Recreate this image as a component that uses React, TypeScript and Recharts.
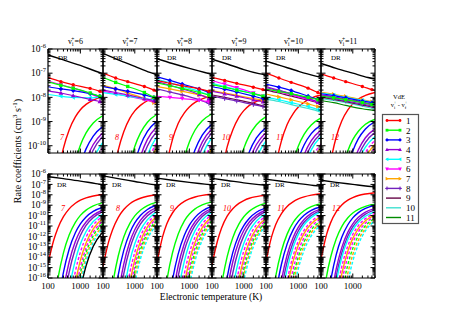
import React from 'react';
import { LineChart, Line, XAxis, YAxis } from 'recharts';

const FONT = '"Liberation Serif","Times New Roman",Times,serif';

// ---------- layout ----------
const PANEL_X = [48, 103, 157, 212, 266, 321];
const PANEL_W = [55, 54, 55, 54, 55, 54];
const ROW_Y = [49, 174];
const PANEL_H = 104;
const ML = 40, MR = 8, MT = 8, MB = 20;
const TICK_MAJ = 4.5, TICK_MIN = 2.5;

// ---------- categories / ticks ----------
const VI = [6, 7, 8, 9, 10, 11];
const VF_LABEL = ['7', '8', '9', '10', '11', '12'];
const MANTISSAS = [1, 2, 3, 4, 5, 6, 7, 8, 9];
const X_DECADES = [100, 1000];
const X_MAX = 5000;
const Y_TOP_EXP = [-11, -10, -9, -8, -7];
const Y_BOT_EXP = [-16, -15, -14, -13, -12, -11, -10, -9, -8, -7];
const Y_TOP_DOMAIN = [5e-11, 1e-6];
const Y_BOT_DOMAIN = [1e-16, 1e-6];
const LEGEND_LABELS = ['1', '2', '3', '4', '5', '6', '7', '8', '9', '10', '11'];

// ---------- temperatures (K) ----------
const T_GRID = [100, 150, 200, 300, 450, 700, 1000, 1500, 2500, 5000];
const VDE_T = [100, 250, 600, 2000, 4000, 5000];
const DR_T = [100, 300, 1000, 3000, 5000];

// ---------- values (log10 of rate coefficient, cm^3 s^-1) ----------
const DR_V6 = [-6.25, -6.45, -6.68, -6.92, -7.02];
const DR_V7 = [-6.18, -6.45, -6.72, -6.97, -7.07];
const DR_V8 = [-6.4, -6.6, -6.8, -6.97, -7.05];
const DR_V9 = [-6.42, -6.62, -6.85, -7.02, -7.08];
const DR_V10 = [-6.5, -6.7, -6.92, -7.1, -7.17];
const DR_V11 = [-6.6, -6.8, -7.0, -7.18, -7.24];

const VDE_V6 = [
  [-7.17, -7.35, -7.48, -7.63, -7.75, -7.8],
  [-7.36, -7.5, -7.62, -7.82, -7.96, -8.0],
  [-7.56, -7.65, -7.72, -7.85, -7.95, -7.98],
  [-7.73, -7.82, -7.93, -8.08, -8.17, -8.2],
  [-7.88, -7.95, -8.0, -8.02, -8.0, -8.0],
  [-7.33, -7.48, -7.62, -7.85, -8.02, -8.08],
];
const VDE_V7 = [
  [-7.0, -7.2, -7.35, -7.55, -7.7, -7.78],
  [-7.17, -7.38, -7.55, -7.8, -8.0, -8.07],
  [-7.55, -7.65, -7.75, -7.9, -8.0, -8.03],
  [-7.7, -7.8, -7.9, -8.05, -8.13, -8.16],
  [-7.8, -7.88, -7.95, -8.05, -8.1, -8.12],
  [-7.75, -7.85, -7.95, -8.1, -8.18, -8.2],
  [-7.5, -7.65, -7.82, -8.05, -8.22, -8.28],
];
const VDE_V8 = [
  [-7.3, -7.42, -7.52, -7.65, -7.75, -7.8],
  [-7.4, -7.52, -7.63, -7.8, -7.9, -7.95],
  [-7.15, -7.3, -7.45, -7.65, -7.8, -7.86],
  [-7.35, -7.5, -7.65, -7.88, -8.05, -8.12],
  [-7.25, -7.4, -7.55, -7.75, -7.9, -7.95],
  [-7.95, -8.0, -8.05, -8.12, -8.18, -8.2],
  [-7.55, -7.65, -7.75, -7.9, -8.0, -8.05],
  [-7.65, -7.78, -7.9, -8.1, -8.25, -8.3],
];
const VDE_V9 = [
  [-7.17, -7.3, -7.42, -7.58, -7.68, -7.72],
  [-7.47, -7.58, -7.7, -7.85, -7.95, -7.98],
  [-7.56, -7.66, -7.78, -7.95, -8.05, -8.07],
  [-7.75, -7.85, -7.95, -8.1, -8.18, -8.2],
  [-7.42, -7.55, -7.68, -7.85, -7.95, -7.98],
  [-7.31, -7.45, -7.6, -7.82, -7.95, -7.99],
  [-7.72, -7.82, -7.92, -8.05, -8.12, -8.15],
  [-7.95, -8.05, -8.15, -8.3, -8.38, -8.4],
  [-7.9, -8.0, -8.1, -8.25, -8.35, -8.38],
];
const VDE_V10 = [
  [-7.0, -7.2, -7.38, -7.62, -7.8, -7.86],
  [-7.65, -7.75, -7.85, -8.0, -8.1, -8.15],
  [-7.45, -7.58, -7.72, -7.95, -8.08, -8.13],
  [-7.56, -7.7, -7.85, -8.05, -8.2, -8.27],
  [-8.0, -8.1, -8.22, -8.38, -8.5, -8.55],
  [-7.65, -7.77, -7.9, -8.08, -8.2, -8.25],
  [-7.86, -7.98, -8.1, -8.27, -8.38, -8.41],
  [-7.6, -7.72, -7.85, -8.05, -8.18, -8.22],
  [-7.7, -7.82, -7.95, -8.12, -8.22, -8.26],
  [-8.07, -8.17, -8.3, -8.46, -8.57, -8.62],
];
const VDE_V11 = [
  [-7.03, -7.2, -7.35, -7.55, -7.68, -7.72],
  [-7.95, -8.02, -8.1, -8.22, -8.3, -8.32],
  [-7.85, -7.93, -8.02, -8.15, -8.22, -8.25],
  [-7.9, -7.98, -8.07, -8.2, -8.28, -8.3],
  [-7.82, -7.9, -8.0, -8.12, -8.2, -8.22],
  [-7.92, -8.0, -8.1, -8.23, -8.32, -8.35],
  [-7.79, -7.87, -7.96, -8.1, -8.18, -8.2],
  [-7.97, -8.05, -8.15, -8.28, -8.36, -8.4],
  [-8.0, -8.08, -8.18, -8.32, -8.4, -8.44],
  [-8.05, -8.13, -8.22, -8.36, -8.45, -8.48],
  [-8.13, -8.22, -8.33, -8.47, -8.53, -8.55],
];

const RISE_V6 = [
  [-14.63, -12.37, -11.23, -10.1, -9.35, -8.81, -8.51, -8.29, -8.11, -7.97],
  [-23.86, -18.72, -16.15, -13.58, -11.87, -10.65, -9.98, -9.47, -9.06, -8.75],
  [-28.74, -22.1, -18.77, -15.45, -13.23, -11.65, -10.8, -10.13, -9.6, -9.2],
  [-33.75, -25.49, -21.35, -17.22, -14.46, -12.5, -11.43, -10.61, -9.95, -9.45],
  [-38, -28.33, -23.5, -18.67, -15.46, -13.16, -11.92, -10.95, -10.18, -9.6],
  [-40, -33.18, -27.16, -21.15, -17.14, -14.28, -12.74, -11.53, -10.57, -9.85],
  [-40, -38.1, -30.87, -23.64, -18.82, -15.38, -13.52, -12.08, -10.92, -10.05],
  [-40, -40, -34.56, -26.13, -20.5, -16.49, -14.31, -12.63, -11.27, -10.26],
  [-40, -40, -37.36, -28.03, -21.81, -17.38, -14.98, -13.11, -11.62, -10.5],
  [-40, -40, -39.6, -29.57, -22.89, -18.13, -15.55, -13.55, -11.94, -10.74],
  [-40, -40, -40, -31.08, -23.96, -18.88, -16.13, -13.99, -12.28, -11.0],
  [-40, -40, -40, -32.34, -24.85, -19.51, -16.61, -14.37, -12.57, -11.22],
  [-40, -40, -40, -33.62, -25.79, -20.2, -17.18, -14.83, -12.95, -11.54],
];
const RISE_V7 = [
  [-14.86, -12.53, -11.36, -10.19, -9.42, -8.86, -8.56, -8.33, -8.14, -8.0],
  [-25.01, -19.46, -16.69, -13.91, -12.06, -10.75, -10.03, -9.48, -9.03, -8.7],
  [-30.16, -22.95, -19.35, -15.75, -13.35, -11.64, -10.71, -9.99, -9.41, -8.98],
  [-35.68, -26.67, -22.17, -17.67, -14.66, -12.52, -11.36, -10.46, -9.74, -9.2],
  [-39.4, -29.22, -24.11, -19.0, -15.6, -13.17, -11.85, -10.83, -10.01, -9.4],
  [-40, -34.49, -28.08, -21.67, -17.4, -14.35, -12.7, -11.42, -10.39, -9.62],
  [-40, -39.6, -31.91, -24.25, -19.14, -15.5, -13.53, -12.0, -10.77, -9.85],
  [-40, -40, -35.29, -26.52, -20.68, -16.5, -14.25, -12.5, -11.09, -10.04],
  [-40, -40, -37.7, -28.17, -21.82, -17.28, -14.83, -12.92, -11.39, -10.25],
  [-40, -40, -40, -29.79, -22.93, -18.04, -15.39, -13.33, -11.69, -10.45],
  [-40, -40, -40, -31.6, -24.17, -18.87, -16.0, -13.77, -11.99, -10.65],
  [-40, -40, -40, -33.36, -25.37, -19.68, -16.6, -14.2, -12.29, -10.85],
];
const RISE_V8 = [
  [-14.5, -12.0, -10.8, -9.75, -9.08, -8.64, -8.4, -8.21, -8.06, -7.95],
  [-24.5, -19.0, -16.3, -13.6, -11.8, -10.5, -9.85, -9.35, -8.97, -8.68],
  [-31.44, -23.84, -20.04, -16.24, -13.71, -11.9, -10.92, -10.17, -9.56, -9.1],
  [-36.3, -27.12, -22.52, -17.93, -14.87, -12.69, -11.5, -10.59, -9.85, -9.3],
  [-40, -29.89, -24.62, -19.35, -15.84, -13.33, -11.98, -10.93, -10.08, -9.45],
  [-40, -34.51, -28.1, -21.69, -17.42, -14.37, -12.73, -11.45, -10.42, -9.65],
  [-40, -39.9, -32.17, -24.43, -19.28, -15.6, -13.61, -12.07, -10.83, -9.9],
  [-40, -40, -35.48, -26.66, -20.79, -16.6, -14.33, -12.57, -11.16, -10.1],
  [-40, -40, -38.3, -28.6, -22.11, -17.48, -14.97, -13.03, -11.47, -10.3],
  [-40, -40, -40, -30.45, -23.37, -18.32, -15.59, -13.47, -11.77, -10.5],
  [-40, -40, -40, -32.24, -24.6, -19.15, -16.2, -13.91, -12.08, -10.7],
  [-40, -40, -40, -33.96, -25.78, -19.94, -16.79, -14.34, -12.37, -10.9],
];
const RISE_V9 = [
  [-14.7, -12.4, -11.2, -10.05, -9.35, -8.83, -8.55, -8.33, -8.17, -8.05],
  [-24.88, -19.41, -16.68, -13.94, -12.12, -10.82, -10.11, -9.57, -9.13, -8.8],
  [-30.13, -23.03, -19.48, -15.93, -13.56, -11.87, -10.96, -10.25, -9.68, -9.25],
  [-33.75, -25.49, -21.35, -17.22, -14.46, -12.5, -11.43, -10.61, -9.95, -9.45],
  [-38.35, -28.57, -23.68, -18.79, -15.53, -13.21, -11.95, -10.97, -10.19, -9.6],
  [-40, -33.07, -27.07, -21.07, -17.08, -14.22, -12.68, -11.48, -10.52, -9.8],
  [-40, -37.28, -30.26, -23.24, -18.56, -15.23, -13.42, -12.02, -10.89, -10.05],
  [-40, -40, -33.46, -25.4, -20.03, -16.19, -14.12, -12.51, -11.22, -10.25],
  [-40, -40, -35.82, -27.01, -21.14, -16.95, -14.68, -12.92, -11.51, -10.45],
  [-40, -40, -38.09, -28.56, -22.21, -17.67, -15.22, -13.32, -11.79, -10.65],
  [-40, -40, -40, -30.01, -23.22, -18.37, -15.74, -13.71, -12.07, -10.85],
  [-40, -40, -40, -31.83, -24.44, -19.17, -16.32, -14.11, -12.33, -11.0],
];
const RISE_V10 = [
  [-14.4, -12.0, -10.85, -9.8, -9.12, -8.66, -8.4, -8.2, -8.03, -7.9],
  [-23.07, -18.23, -15.81, -13.4, -11.78, -10.63, -10.01, -9.53, -9.14, -8.85],
  [-26.45, -20.56, -17.62, -14.68, -12.72, -11.32, -10.56, -9.97, -9.5, -9.15],
  [-30.89, -23.56, -19.9, -16.24, -13.79, -12.05, -11.11, -10.38, -9.79, -9.35],
  [-33.47, -25.32, -21.24, -17.16, -14.45, -12.51, -11.46, -10.64, -9.99, -9.5],
  [-36.43, -27.31, -22.75, -18.19, -15.15, -12.98, -11.81, -10.9, -10.17, -9.62],
  [-40, -30.27, -25.03, -19.79, -16.3, -13.8, -12.45, -11.41, -10.57, -9.94],
  [-40, -32.24, -26.54, -20.83, -17.02, -14.31, -12.84, -11.7, -10.79, -10.1],
  [-40, -35.43, -28.95, -22.48, -18.16, -15.08, -13.41, -12.12, -11.08, -10.3],
  [-40, -38.48, -31.27, -24.06, -19.25, -15.82, -13.96, -12.52, -11.37, -10.5],
  [-40, -40, -33.5, -25.58, -20.3, -16.54, -14.5, -12.92, -11.65, -10.7],
  [-40, -40, -35.98, -27.27, -21.46, -17.32, -15.08, -13.34, -11.95, -10.9],
];
const RISE_V11 = [
  [-14.2, -11.8, -10.7, -9.65, -8.98, -8.52, -8.27, -8.07, -7.92, -7.8],
  [-19.37, -15.81, -14.03, -12.25, -11.06, -10.21, -9.75, -9.4, -9.11, -8.9],
  [-23.96, -18.87, -16.33, -13.78, -12.09, -10.88, -10.22, -9.71, -9.31, -9.0],
  [-27.6, -21.37, -18.26, -15.15, -13.08, -11.59, -10.79, -10.17, -9.67, -9.3],
  [-29.57, -22.73, -19.3, -15.88, -13.6, -11.97, -11.09, -10.41, -9.86, -9.45],
  [-30.99, -23.72, -20.09, -16.45, -14.03, -12.3, -11.37, -10.64, -10.06, -9.62],
  [-34.7, -26.23, -21.99, -17.75, -14.92, -12.91, -11.81, -10.97, -10.29, -9.78],
  [-37.53, -28.14, -23.45, -18.76, -15.63, -13.4, -12.19, -11.26, -10.5, -9.94],
  [-40, -30.36, -25.14, -19.92, -16.43, -13.95, -12.61, -11.56, -10.73, -10.1],
  [-40, -33.69, -27.65, -21.61, -17.58, -14.71, -13.15, -11.94, -10.98, -10.25],
  [-40, -37.46, -30.49, -23.51, -18.86, -15.54, -13.75, -12.35, -11.24, -10.4],
  [-40, -40, -33.8, -25.71, -20.31, -16.47, -14.38, -12.77, -11.47, -10.5],
];

// ---------- styles ----------
const VDE_COLORS = ['#ff0000', '#00ff00', '#0000ff', '#9400d3', '#00ffff', '#ff00ff', '#ffa500', '#7221bc', '#670748', '#40e0d0', '#008b00'];
const VDE_SHAPES = ['circle', 'square', 'diamond', 'triUp', 'triLeft', 'triDown', 'triRight', 'plus', 'none', 'none', 'none'];
const RISE_COLORS = ['#ff0000', '#00ff00', '#0000ff', '#9400d3', '#7221bc', '#00ffff', '#ff00ff', '#ffa500', '#ff00ff', '#00ff00', '#ffa500', '#00ffff', '#000000'];
const RISE_DASHED = [false, false, false, false, false, false, true, false, true, true, true, true, false];

const COLS = [
  { dr: DR_V6, vde: VDE_V6, rise: RISE_V6 },
  { dr: DR_V7, vde: VDE_V7, rise: RISE_V7 },
  { dr: DR_V8, vde: VDE_V8, rise: RISE_V8 },
  { dr: DR_V9, vde: VDE_V9, rise: RISE_V9 },
  { dr: DR_V10, vde: VDE_V10, rise: RISE_V10 },
  { dr: DR_V11, vde: VDE_V11, rise: RISE_V11 },
];

const X_TICKS = X_DECADES.flatMap((d) => MANTISSAS.map((m) => m * d)).filter((v) => v <= X_MAX);
const mkYTicks = (exps: number[], lo: number, hi: number) =>
  exps.flatMap((e) => MANTISSAS.map((m) => m * Math.pow(10, e))).filter((v) => v >= lo * 0.999 && v < hi * 0.999).concat([hi]);
const Y_TICKS_TOP = mkYTicks(Y_TOP_EXP, Y_TOP_DOMAIN[0], Y_TOP_DOMAIN[1]);
const Y_TICKS_BOT = mkYTicks(Y_BOT_EXP, Y_BOT_DOMAIN[0], Y_BOT_DOMAIN[1]);

const toData = (ts: number[], logs: number[]) => ts.map((T, i) => ({ T, k: Math.pow(10, logs[i]) }));
const isMajor = (v: number) => Math.abs(Math.log10(v) - Math.round(Math.log10(v))) < 1e-6;

function Marker({ shape, x, y, color, s = 1.7 }: any) {
  const a = s * 1.35;
  switch (shape) {
    case 'circle':
      return <circle cx={x} cy={y} r={s} fill={color} />;
    case 'square':
      return <rect x={x - s} y={y - s} width={2 * s} height={2 * s} fill={color} />;
    case 'diamond':
      return <polygon points={`${x},${y - a} ${x + a},${y} ${x},${y + a} ${x - a},${y}`} fill={color} />;
    case 'triUp':
      return <polygon points={`${x},${y - a} ${x + a},${y + s} ${x - a},${y + s}`} fill={color} />;
    case 'triDown':
      return <polygon points={`${x},${y + a} ${x + a},${y - s} ${x - a},${y - s}`} fill={color} />;
    case 'triLeft':
      return <polygon points={`${x - a},${y} ${x + s},${y - a} ${x + s},${y + a}`} fill={color} />;
    case 'triRight':
      return <polygon points={`${x + a},${y} ${x - s},${y - a} ${x - s},${y + a}`} fill={color} />;
    case 'plus':
      return <path d={`M${x - a},${y}H${x + a}M${x},${y - a}V${y + a}`} stroke={color} strokeWidth={1} />;
    default:
      return <g />;
  }
}

const mkLeftTick = (labels: boolean) => (p: any) => {
  const { x, y, payload } = p;
  const v = payload.value;
  const maj = isMajor(v);
  return (
    <g>
      <line x1={x} x2={x + (maj ? TICK_MAJ : TICK_MIN)} y1={y} y2={y} stroke="#000" strokeWidth={1} />
      {labels && maj ? (
        <text x={x - 2} y={y + 3.2} textAnchor="end" fontSize={9.5} fontFamily={FONT} fill="#000">
          10<tspan dy={-4} fontSize={6.5}>{String(Math.round(Math.log10(v)))}</tspan>
        </text>
      ) : null}
    </g>
  );
};
const RightTick = (p: any) => {
  const { x, y, payload } = p;
  const maj = isMajor(payload.value);
  return <line x1={x} x2={x - (maj ? TICK_MAJ : TICK_MIN)} y1={y} y2={y} stroke="#000" strokeWidth={1} />;
};
const TopTick = (p: any) => {
  const { x, y, payload } = p;
  const maj = isMajor(payload.value);
  return <line x1={x} x2={x} y1={y} y2={y + (maj ? TICK_MAJ : TICK_MIN)} stroke="#000" strokeWidth={1} />;
};
const mkBottomTick = (labels: boolean) => (p: any) => {
  const { x, y, payload } = p;
  const v = payload.value;
  const maj = isMajor(v);
  const li = X_DECADES.indexOf(v);
  return (
    <g>
      <line x1={x} x2={x} y1={y} y2={y - (maj ? TICK_MAJ : TICK_MIN)} stroke="#000" strokeWidth={1} />
      {labels && li >= 0 ? (
        <text x={x} y={y + 11} textAnchor="middle" fontSize={9} fontFamily={FONT} fill="#000">
          {X_DECADES[li] === 100 ? '100' : '1000'}
        </text>
      ) : null}
    </g>
  );
};

function Panel({ col, row }: { col: number; row: number }) {
  const cd = COLS[col];
  const px = PANEL_X[col];
  const pw = PANEL_W[col];
  const py = ROW_Y[row];
  const yDomain = row === 0 ? Y_TOP_DOMAIN : Y_BOT_DOMAIN;
  const yTicks = row === 0 ? Y_TICKS_TOP : Y_TICKS_BOT;
  const lines: any[] = [];
  cd.rise.forEach((arr, i) => {
    lines.push(
      <Line
        key={'r' + i}
        xAxisId="b"
        yAxisId="l"
        data={toData(T_GRID, arr)}
        dataKey="k"
        type="monotone"
        stroke={RISE_COLORS[i]}
        strokeWidth={1.4}
        strokeDasharray={RISE_DASHED[i] ? '3 2' : undefined}
        dot={false}
        activeDot={false}
        isAnimationActive={false}
      />
    );
  });
  if (row === 0) {
    const order = cd.vde.map((_, i) => i).reverse();
    order.forEach((i) => {
      const arr = cd.vde[i];
      const color = VDE_COLORS[i];
      const shape = VDE_SHAPES[i];
      const last = arr.length - 1;
      lines.push(
        <Line
          key={'v' + i}
          xAxisId="b"
          yAxisId="l"
          data={toData(VDE_T, arr)}
          dataKey="k"
          type="monotone"
          stroke={color}
          strokeWidth={1.2}
          dot={(p: any) =>
            p.index === 0 || p.index === last || p.cx == null ? (
              <g key={'d' + p.index} />
            ) : (
              <Marker key={'d' + p.index} shape={shape} x={p.cx} y={p.cy} color={color} />
            )
          }
          activeDot={false}
          isAnimationActive={false}
        />
      );
    });
  }
  lines.push(
    <Line
      key="dr"
      xAxisId="b"
      yAxisId="l"
      data={toData(DR_T, cd.dr)}
      dataKey="k"
      type="monotone"
      stroke="#000"
      strokeWidth={1.4}
      dot={false}
      activeDot={false}
      isAnimationActive={false}
    />
  );
  return (
    <div style={{ position: 'absolute', left: px - ML, top: py - MT }}>
      <LineChart width={pw + ML + MR} height={PANEL_H + MT + MB} margin={{ top: 0, right: 0, bottom: 0, left: 0 }}>
        <XAxis
          xAxisId="b"
          orientation="bottom"
          dataKey="T"
          type="number"
          scale="log"
          domain={[100, X_MAX]}
          allowDataOverflow
          ticks={X_TICKS}
          interval={0}
          tickSize={0}
          tickMargin={0}
          tickLine={false}
          axisLine={{ stroke: '#000', strokeWidth: 1.2 }}
          height={MB}
          tick={mkBottomTick(row === 1)}
        />
        <XAxis
          xAxisId="t"
          orientation="top"
          dataKey="T"
          type="number"
          scale="log"
          domain={[100, X_MAX]}
          allowDataOverflow
          ticks={X_TICKS}
          interval={0}
          tickSize={0}
          tickMargin={0}
          tickLine={false}
          axisLine={{ stroke: '#000', strokeWidth: 1.2 }}
          height={MT}
          tick={TopTick}
        />
        <YAxis
          yAxisId="l"
          orientation="left"
          type="number"
          scale="log"
          domain={yDomain}
          allowDataOverflow
          ticks={yTicks}
          interval={0}
          tickSize={0}
          tickMargin={0}
          tickLine={false}
          axisLine={{ stroke: '#000', strokeWidth: 1.2 }}
          width={ML}
          tick={mkLeftTick(col === 0)}
        />
        <YAxis
          yAxisId="r"
          orientation="right"
          type="number"
          scale="log"
          domain={yDomain}
          allowDataOverflow
          ticks={yTicks}
          interval={0}
          tickSize={0}
          tickMargin={0}
          tickLine={false}
          axisLine={{ stroke: '#000', strokeWidth: 1.2 }}
          width={MR}
          tick={RightTick}
        />
        {lines}
      </LineChart>
    </div>
  );
}

function Overlay() {
  return (
    <svg width={451} height={319} style={{ position: 'absolute', left: 0, top: 0, pointerEvents: 'none' }} fontFamily={FONT}>
      {VI.map((v, c) => (
        <text key={'t' + c} x={PANEL_X[c] + PANEL_W[c] / 2} y={44} textAnchor="middle" fontSize={8} fill="#000">
          v<tspan fontSize={5.5} dy={2}>i</tspan>
          <tspan fontSize={5.5} dx={-2.2} dy={-5.5}>+</tspan>
          <tspan dy={3.5}>{'=' + v}</tspan>
        </text>
      ))}
      {VI.map((v, c) => (
        <g key={'lab' + c}>
          <text x={PANEL_X[c] + 10} y={59.5} fontSize={7} fill="#000">DR</text>
          <text x={PANEL_X[c] + 9} y={187} fontSize={7} fill="#000">DR</text>
          <text x={PANEL_X[c] + 14} y={140} fontSize={8} fontStyle="italic" textAnchor="middle" fill="#ff0000">{VF_LABEL[c]}</text>
          <text x={PANEL_X[c] + 15} y={211} fontSize={8} fontStyle="italic" textAnchor="middle" fill="#ff0000">{VF_LABEL[c]}</text>
        </g>
      ))}
      <text transform="translate(21,151) rotate(-90)" textAnchor="middle" fontSize={10} fill="#000">
        Rate coefficients (cm<tspan dy={-4} fontSize={7}>3</tspan>
        <tspan dy={4}> s</tspan>
        <tspan dy={-4} fontSize={7}>-1</tspan>
        <tspan dy={4}>)</tspan>
      </text>
      <text x={211} y={300} textAnchor="middle" fontSize={9.5} fill="#000">Electronic temperature (K)</text>
      <text x={399} y={99} textAnchor="middle" fontSize={6.5} fill="#000">VdE</text>
      <text x={399} y={107} textAnchor="middle" fontSize={6.5} fill="#000">
        v<tspan fontSize={4.5} dy={1.5}>i</tspan>
        <tspan fontSize={4.5} dx={-1.6} dy={-4.5}>+</tspan>
        <tspan dy={3}>{' - v'}</tspan>
        <tspan fontSize={4.5} dy={1.5}>f</tspan>
        <tspan fontSize={4.5} dx={-1.6} dy={-4.5}>+</tspan>
      </text>
      <rect x={382.5} y={114.5} width={36} height={109} fill="#fff" stroke="#555" strokeWidth={1.2} />
      {LEGEND_LABELS.map((lab, i) => {
        const y = 120.5 + i * 9.7;
        return (
          <g key={'lg' + i}>
            <line x1={386} x2={401} y1={y} y2={y} stroke={VDE_COLORS[i]} strokeWidth={1.4} />
            <Marker shape={VDE_SHAPES[i]} x={387} y={y} color={VDE_COLORS[i]} s={1.4} />
            <Marker shape={VDE_SHAPES[i]} x={400} y={y} color={VDE_COLORS[i]} s={1.4} />
            <text x={406} y={y + 3.3} fontSize={9} fill="#000">{lab}</text>
          </g>
        );
      })}
    </svg>
  );
}

export default function App() {
  const panels: any[] = [];
  [0, 1].forEach((row) => VI.forEach((_, col) => panels.push(<Panel key={row + '-' + col} col={col} row={row} />)));
  return (
    <div style={{ position: 'absolute', left: 0, top: 0, width: 451, height: 319, background: '#fff', fontFamily: FONT, overflow: 'hidden' }}>
      {panels}
      <Overlay />
    </div>
  );
}
